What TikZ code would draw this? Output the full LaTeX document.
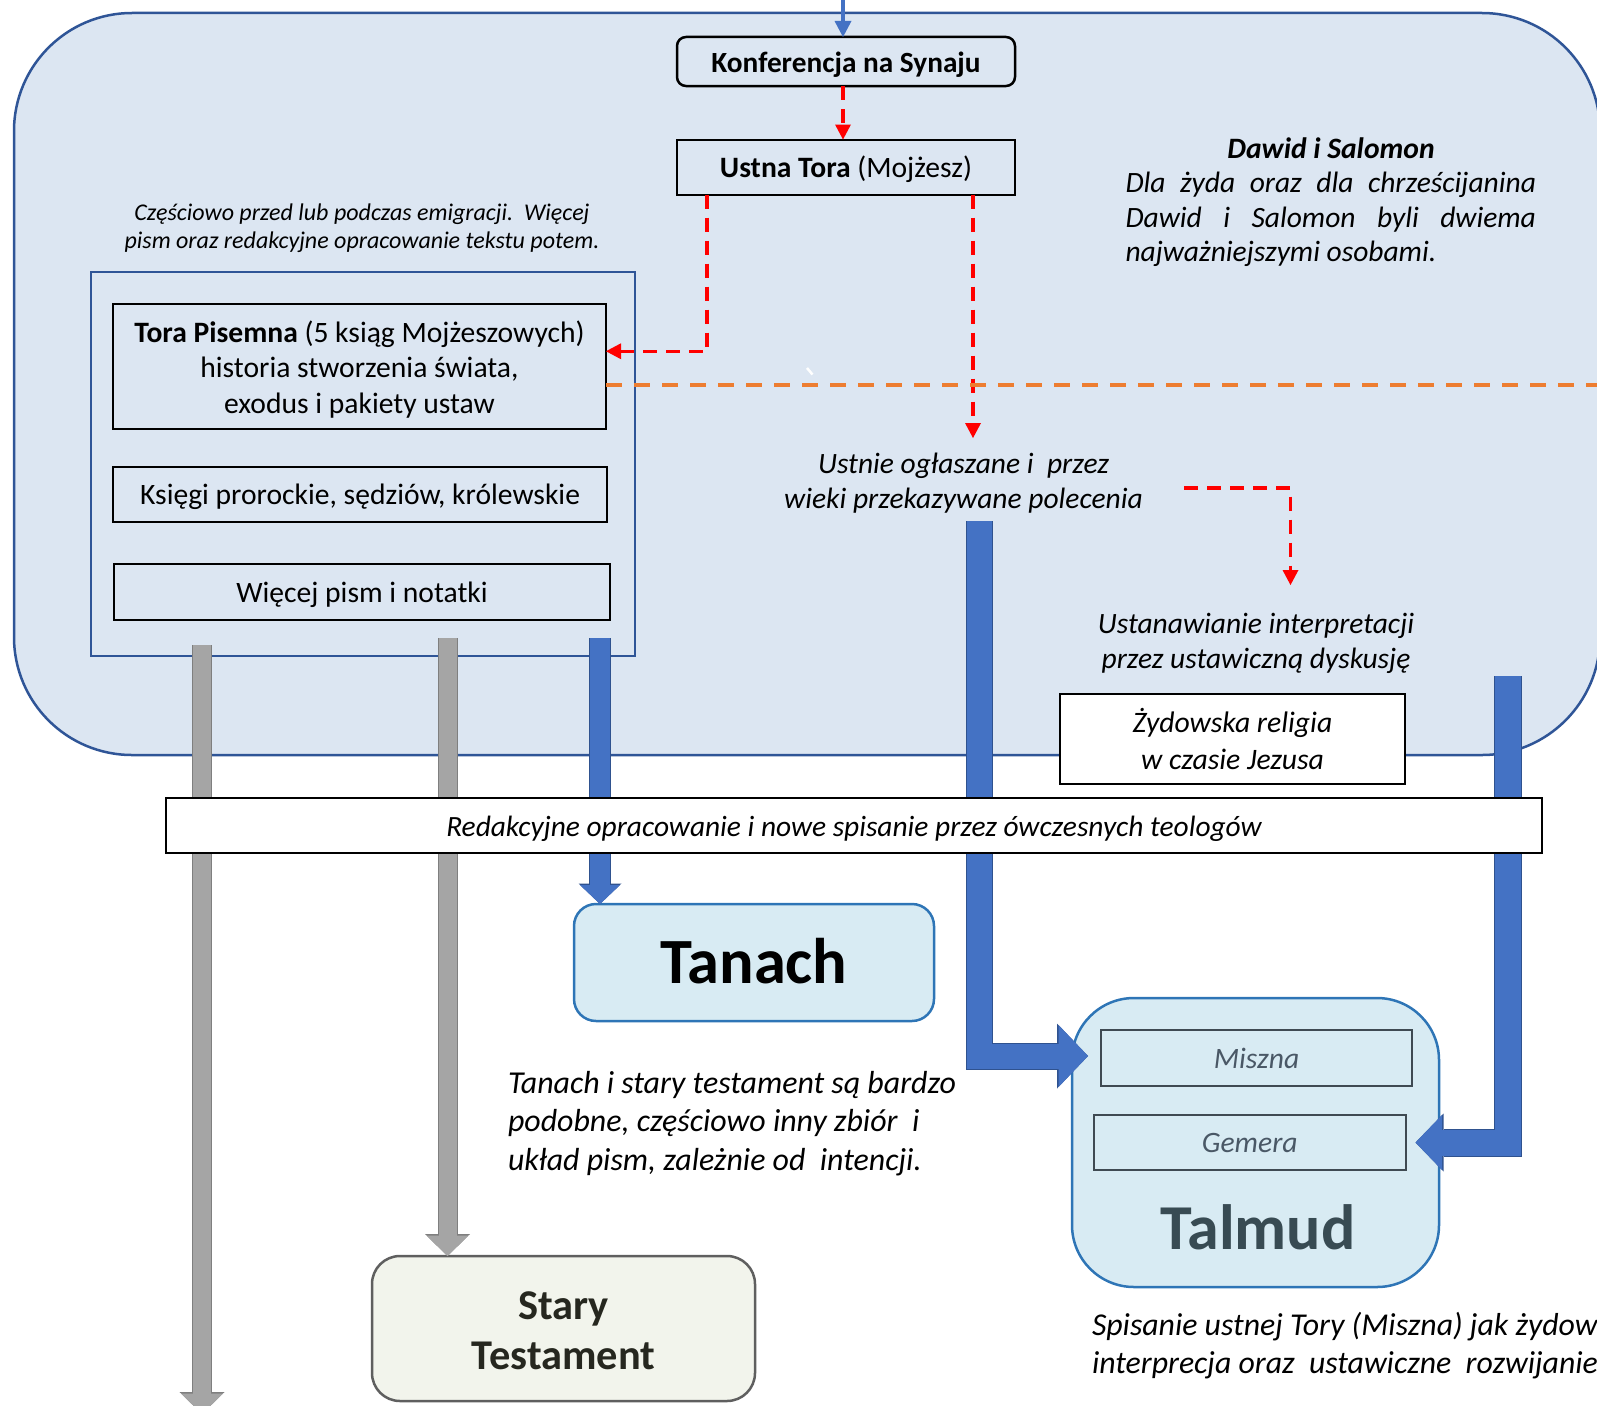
\documentclass[tikz,border=0pt]{standalone}
\usepackage{fontspec}
\setmainfont{Carlito}
\usetikzlibrary{arrows.meta}

\definecolor{panelfill}{HTML}{DCE6F2}
\definecolor{panelline}{HTML}{2F5597}
\definecolor{aquafill}{HTML}{D8EBF3}
\definecolor{aqualine}{HTML}{2E75B6}
\definecolor{olivefill}{HTML}{F2F4EC}
\definecolor{oliveline}{HTML}{5F5F5F}
\definecolor{olivetext}{HTML}{26271F}
\definecolor{slatetext}{HTML}{384B53}
\definecolor{subtext}{HTML}{4A5866}
\definecolor{subline}{HTML}{3F4A52}
\definecolor{accentblue}{HTML}{4472C4}
\definecolor{accentblueline}{HTML}{2F528F}
\definecolor{shaftgray}{HTML}{A5A5A5}
\definecolor{shaftgrayline}{HTML}{7F7F7F}
\definecolor{dashred}{HTML}{FF0000}
\definecolor{dashorange}{HTML}{ED7D31}

\newcommand\fsz[2]{\fontsize{#1}{#2}\selectfont}

\begin{document}
\begin{tikzpicture}[x=1pt,y=-1pt,
  every node/.style={inner sep=0pt,outer sep=0pt},
  plainbox/.style={draw=black,line width=2pt},
  oneline/.style={text height=21pt,text depth=0pt},
  txt/.style={font=\fsz{29.6}{35.5}},
  itxt/.style={font=\itshape\fsz{29.5}{35}},
  reddash/.style={draw=dashred,line width=3.5pt,dash pattern=on 14pt off 9pt,
    -{Triangle[length=15pt,width=16pt,line width=0pt]}},
  orangedash/.style={draw=dashorange,line width=4pt,dash pattern=on 16pt off 12pt},
  feedarrow/.style={draw=accentblue,line width=4.5pt,
    -{Triangle[length=16pt,width=17pt,line width=0pt]}},
  grayshaft/.style={draw=shaftgray,line width=18pt,
    -{Triangle[length=20.5pt,width=42pt,line width=0pt]},
    preaction={draw=shaftgrayline,line width=20pt,
      -{Triangle[length=22pt,width=45pt,line width=0pt]}}},
  blueshaft/.style={draw=accentblue,line width=20pt,
    -{Triangle[length=19pt,width=40pt,line width=0pt]},
    preaction={draw=accentblueline,line width=22pt,
      -{Triangle[length=20.5pt,width=43pt,line width=0pt]}}},
  elbowA/.style={draw=accentblue,line width=25pt,line join=miter,
    -{Triangle[length=29.5pt,width=62pt,line width=0pt]},
    preaction={draw=accentblueline,line width=27pt,line join=miter,
      -{Triangle[length=31pt,width=65pt,line width=0pt]}}},
  elbowB/.style={draw=accentblue,line width=26pt,line join=miter,
    -{Triangle[length=26.5pt,width=55pt,line width=0pt]},
    preaction={draw=accentblueline,line width=28pt,line join=miter,
      -{Triangle[length=28pt,width=58pt,line width=0pt]}}},
]
\useasboundingbox (0,0) rectangle (1597,1405);

% background panel
\draw[fill=panelfill,draw=panelline,line width=2.5pt,rounded corners=118pt]
  (14,13) rectangle (1600,755);

% written scriptures group
\draw[draw=panelline,line width=2.5pt] (91,272) rectangle (635,656);
\node[font=\itshape\fsz{24}{28.5},align=center] (emig) at (362,228)
  {Częściowo przed lub podczas emigracji.\ \ Więcej\\pism oraz redakcyjne opracowanie tekstu potem.};
\node[plainbox,minimum width=493pt,minimum height=125.5pt] (tora) at (359.5,366.25) {};
\node[txt,align=center] (toratext) at (359.5,369.25)
  {\textbf{Tora Pisemna} (5 ksiąg Mojżeszowych)\\historia stworzenia świata,\\exodus i pakiety ustaw};
\node[plainbox,txt,oneline,minimum width=494pt,minimum height=55pt] (ksiegi) at (360,494)
  {Księgi prorockie, sędziów, królewskie};
\node[plainbox,txt,oneline,minimum width=496pt,minimum height=56pt] (wiecej) at (362,592)
  {Więcej pism i notatki};

% Sinai and oral tradition
\node[plainbox,oneline,line width=2.5pt,rounded corners=9pt,font=\bfseries\fsz{29.3}{35},
  minimum width=338pt,minimum height=49pt] (konf) at (846,61.5) {Konferencja na Synaju};
\node[plainbox,txt,oneline,minimum width=338pt,minimum height=55pt] (ustna) at (846,167)
  {\textbf{Ustna Tora} (Mojżesz)};

\node[font=\bfseries\itshape\fsz{29.6}{34.7}] (dawid) at (1331,148) {Dawid i Salomon};
\node[font=\itshape\fsz{29.5}{34.7},align=left] (dawidtext) at (1330.75,219.5)
  {\makebox[410.5pt][s]{Dla żyda oraz dla chrześcijanina}\\
   \makebox[410.5pt][s]{Dawid i Salomon byli dwiema}\\
   najważniejszymi osobami.};

% small white stroke above the orange line
\draw[white,line width=2.5pt] (807,368) -- (812.5,374.5);

\node[itxt,align=center] (ustnie) at (963.5,483.5)
  {Ustnie ogłaszane i\ \ przez\\wieki przekazywane polecenia};
\node[itxt,align=center] (ustanaw) at (1256,643)
  {Ustanawianie interpretacji\\przez ustawiczną dyskusję};

\node[plainbox,fill=white,font=\itshape\fsz{29.7}{37},align=center,
  minimum width=345pt,minimum height=90pt] (zyd) at (1232.5,739)
  {Żydowska religia\\w czasie Jezusa};

% dashed links
\coordinate (src) at (843,-2);
\draw[feedarrow] (src) -- (src |- konf.north);
\draw[reddash] ([xshift=-3pt]konf.south) -- ([xshift=-3pt]ustna.north);
\draw[reddash] ([xshift=-139pt]ustna.south) |- ([yshift=15pt]tora.east);
\coordinate (oraltip) at (973,438);
\draw[reddash] (ustna.south -| oraltip) -- (oraltip);
\coordinate (interpA) at (1184,488);
\coordinate (interpB) at (1290.5,585);
\draw[reddash] (interpA) -| (interpB);
\coordinate (orangeend) at (1602,385);
\draw[orangedash] (tora.east |- orangeend) -- (orangeend);

% results
\node[draw=aqualine,fill=aquafill,line width=2.5pt,rounded corners=22pt,
  minimum width=360pt,minimum height=117pt,font=\bfseries\fsz{64.5}{72},
  text height=42pt,text depth=0pt] (tanach) at (754,962.5) {Tanach};
\node[font=\itshape\fsz{31.9}{38.7},align=left,anchor=west] (tanachnote) at (508,1123.5)
  {Tanach i stary testament są bardzo\\podobne, częściowo inny zbiór\ \ i\\układ pism, zależnie od\ \ intencji.};
\node[draw=oliveline,fill=olivefill,line width=2.5pt,rounded corners=28pt,
  minimum width=383pt,minimum height=145pt] (stary) at (563.5,1328.5) {};
\node[text=olivetext,font=\bfseries\fsz{42.4}{50},align=center] (starytext) at (563.5,1331)
  {Stary\\Testament};

\node[draw=aqualine,fill=aquafill,line width=2.5pt,rounded corners=62pt,
  minimum width=367pt,minimum height=289pt] (talmud) at (1255.5,1142.5) {};
\node[draw=subline,line width=2pt,text=subtext,font=\itshape\fsz{29.6}{35},
  minimum width=311pt,minimum height=55.5pt] (miszna) at (1256.5,1058) {Miszna};
\node[draw=subline,line width=2pt,text=subtext,font=\itshape\fsz{29.6}{35},
  minimum width=311.5pt,minimum height=55pt] (gemera) at (1249.75,1142.5) {Gemera};
\node[text=slatetext,font=\bfseries\fsz{64}{72}] (talmudname) at (1258,1227) {Talmud};
\node[font=\itshape\fsz{31.8}{38},align=left,anchor=west] (talmudnote) at (1092,1346)
  {Spisanie ustnej Tory (Miszna) jak żydow\\interprecja oraz\ \ ustawiczne\ \ rozwijanie};

% flow arrows
\coordinate (g1s) at (202,645);
\coordinate (g1e) at (202,1414);
\draw[grayshaft] (g1s) -- (g1e);
\coordinate (g2s) at (447.5,638);
\draw[grayshaft] (g2s) -- (g2s |- stary.north);
\coordinate (b3s) at (600,638);
\draw[blueshaft] (b3s) -- (b3s |- tanach.north);
\coordinate (b4s) at (979.5,521);
\draw[elbowA] (b4s) |- ([xshift=-13pt,yshift=2pt]miszna.west);
\coordinate (b5s) at (1508,676);
\draw[elbowB] (b5s) |- ([xshift=10pt]gemera.east);

% editorial bar across all streams
\node[plainbox,oneline,fill=white,font=\itshape\fsz{29.4}{35},minimum width=1376pt,minimum height=55pt]
  (redakcja) at (854,825.5) {Redakcyjne opracowanie i nowe spisanie przez ówczesnych teologów};
\end{tikzpicture}
\end{document}
